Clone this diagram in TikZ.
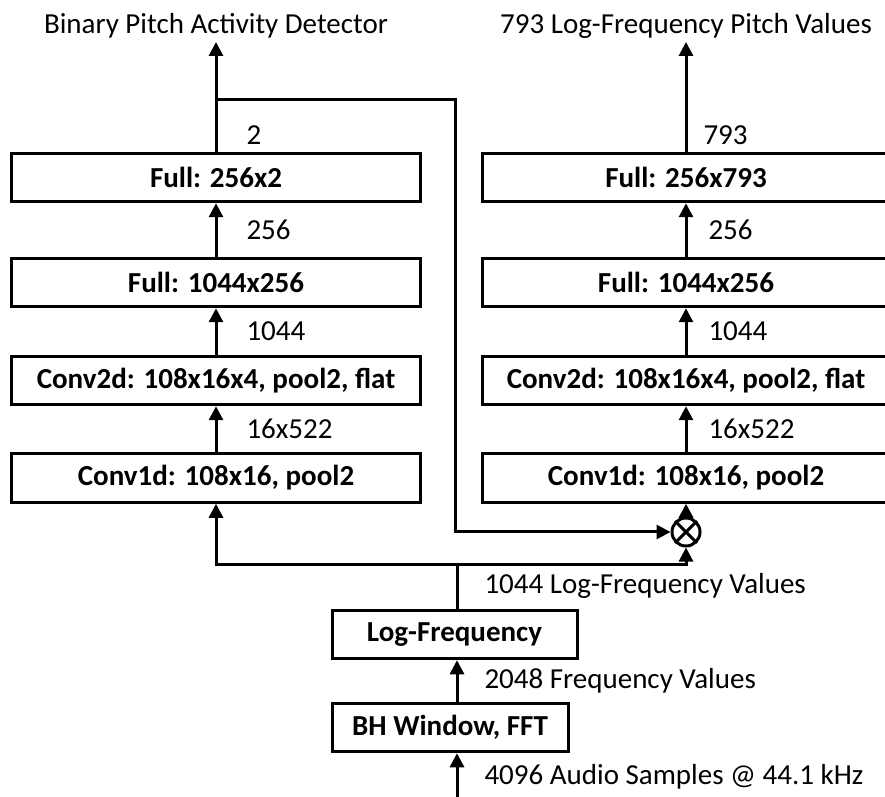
\documentclass[tikz,border=0pt]{standalone}
\usepackage{fontspec}
\setmainfont{Carlito}
\usetikzlibrary{arrows.meta,positioning}
\tikzset{
  layer/.style={draw, minimum width=163.2pt, minimum height=19.4pt, inner sep=0pt, font=\fontsize{11.6}{14}\selectfont\bfseries},
  lbl/.style={right=#1, inner sep=0pt},
  lbl/.default=10.4pt
}
\begin{document}
\begin{tikzpicture}[x=0.4pt, y=-0.4pt, line width=1.2pt, font=\fontsize{11.6}{14}\selectfont, >={Triangle[width=5.6pt,length=5.6pt]}]
	\useasboundingbox (0,0) rectangle (885,797);
	\clip (0,0) rectangle (885,797);
	% two columns of layers
	\node[layer] (c1L) at (216,478) {Conv1d: 108x16, pool2};
	\node[layer] (c2L) at (216,380.5) {Conv2d: 108x16x4, pool2, flat};
	\node[layer] (f1L) at (216,282.5) {Full: 1044x256};
	\node[layer] (f2L) at (216,177.5) {Full: 256x2};
	\node[layer] (c1R) at (686,478) {Conv1d: 108x16, pool2};
	\node[layer] (c2R) at (686,380.5) {Conv2d: 108x16x4, pool2, flat};
	\node[layer] (f1R) at (686,282.5) {Full: 1044x256};
	\node[layer] (f2R) at (686,177.5) {Full: 256x793};
	% front end
	\node[layer, minimum width=98pt] (lf) at (454.5,634.5) {Log-Frequency};
	\node[layer, minimum width=94.4pt] (bh) at (450,727.5) {BH Window, FFT};
	\node[draw, circle, minimum size=11.2pt, inner sep=0pt] (mul) at (686,532) {};
	\draw (mul.north east) -- (mul.south west) (mul.north west) -- (mul.south east);
	\path (457,800) coordinate (in)
		(457,564) coordinate (bus)
		(216,42) coordinate (outL) (686,42) coordinate (outR)
		(216,100) coordinate (tap) (455,100) coordinate (turn);
	\draw[->] (in) -- node[lbl]{4096 Audio Samples @ 44.1 kHz} (bh.south -| in);
	\draw[->] (bh.north -| in) -- node[lbl]{2048 Frequency Values} (lf.south -| in);
	\draw (lf.north -| in) -- node[lbl]{1044 Log-Frequency Values} (bus);
	\draw[->] (bus) -| (c1L.south);
	\draw[->] (bus) -| (mul.south);
	\draw[->] (mul.north) -- (c1R.south);
	\draw[->] (tap) -| (turn |- mul) -- (mul.west);
	\foreach \a/\b/\lab in {c1/c2/16x522, c2/f1/1044, f1/f2/256} {
		\draw[->] (\a L.north) -- node[lbl=11.6pt]{\lab} (\b L.south);
		\draw[->] (\a R.north) -- node[lbl=8.4pt]{\lab} (\b R.south);
	}
	\draw[->] (f2L.north) -- node[lbl=11.6pt, pos=0.15]{2} (outL) node[above, inner sep=1pt]{Binary Pitch Activity Detector};
	\draw[->] (f2R.north) -- node[lbl=6.4pt, pos=0.15]{793} (outR) node[above, inner sep=1pt]{793 Log-Frequency Pitch Values};
\end{tikzpicture}
\end{document}
